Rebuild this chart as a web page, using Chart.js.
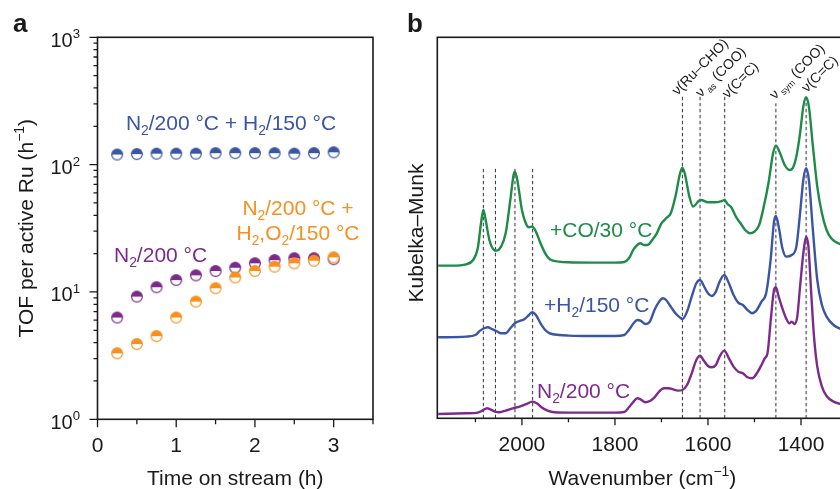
<!DOCTYPE html>
<html><head><meta charset="utf-8">
<script src="https://cdn.jsdelivr.net/npm/chart.js@4.4.1/dist/chart.umd.min.js"></script>
<style>
html,body{margin:0;padding:0;background:#fff;overflow:hidden;width:840px;height:489px}
#wrap{position:relative;width:840px;height:489px;overflow:hidden;background:#fff}
#ca{position:absolute;left:0;top:0;width:420px;height:489px}
#cb{position:absolute;left:400px;top:0;width:470px;height:489px}
</style></head><body>
<div id="wrap"><canvas id="ca" width="420" height="489"></canvas><canvas id="cb" width="470" height="489"></canvas></div>
<script>
// ---------- Panel a data ----------
const timeH = [0.25, 0.5, 0.75, 1.0, 1.25, 1.5, 1.75, 2.0, 2.25, 2.5, 2.75, 3.0];
const tofN2H2 = [120, 121, 122, 122, 122, 123, 123, 123, 123, 122, 123, 125];
const tofN2 = [6.3, 9.2, 10.9, 12.4, 13.5, 14.6, 15.5, 16.8, 17.8, 18.4, 18.4, 18.1];
const tofN2H2O2 = [3.3, 3.9, 4.5, 6.3, 8.4, 10.7, 13.0, 14.6, 15.8, 16.8, 17.6, 18.7];
const xTicksA = [0, 1, 2, 3];
const yTickExpA = [0, 1, 2, 3];

// ---------- Panel b data ----------
const coWave = [2180,2150,2120,2105,2095,2088,2083,2078,2070,2060,2055,2045,2035,2025,2018,2015,2010,2000,1990,1985,1978,1970,1960,1950,1940,1920,1900,1850,1800,1780,1770,1760,1750,1745,1738,1730,1720,1710,1700,1690,1680,1670,1660,1655,1650,1640,1632,1620,1615,1600,1585,1570,1564,1558,1550,1540,1530,1520,1510,1500,1490,1480,1470,1460,1454,1445,1435,1425,1418,1410,1402,1395,1389,1383,1375,1365,1355,1345,1335,1320,1300];
const coKM = [1.527,1.527,1.54,1.583,1.70,1.95,2.083,1.983,1.783,1.683,1.677,1.717,1.85,2.183,2.433,2.467,2.383,2.083,1.933,1.91,1.917,1.867,1.75,1.65,1.59,1.567,1.56,1.557,1.557,1.563,1.6,1.69,1.74,1.75,1.733,1.733,1.783,1.85,1.95,2.0,2.05,2.217,2.45,2.507,2.45,2.217,2.117,2.173,2.183,2.16,2.16,2.173,2.183,2.143,2.11,2.017,1.95,1.883,1.85,1.867,1.933,2.117,2.35,2.65,2.727,2.65,2.533,2.483,2.5,2.617,2.85,3.117,3.21,3.117,2.75,2.317,2.05,1.883,1.8,1.75,1.72];
const h2Wave = [2180,2120,2100,2090,2080,2073,2065,2055,2045,2035,2025,2015,2005,1995,1985,1978,1970,1960,1950,1940,1920,1900,1850,1800,1780,1770,1760,1752,1745,1735,1725,1715,1705,1697,1690,1680,1670,1660,1655,1645,1635,1625,1617,1610,1600,1592,1583,1575,1565,1555,1545,1535,1525,1515,1505,1495,1485,1475,1465,1458,1454,1448,1440,1432,1420,1410,1402,1395,1389,1383,1375,1365,1355,1345,1330,1310,1300];
const h2KM = [0.81,0.817,0.833,0.877,0.903,0.91,0.893,0.873,0.85,0.85,0.9,0.95,0.973,0.99,1.033,1.06,1.033,0.95,0.883,0.85,0.833,0.827,0.823,0.823,0.833,0.883,0.95,0.983,0.977,0.943,0.967,1.083,1.167,1.2,1.183,1.117,1.05,1.007,0.993,1.067,1.217,1.35,1.383,1.333,1.25,1.223,1.267,1.367,1.433,1.35,1.233,1.157,1.133,1.083,1.05,1.083,1.167,1.25,1.6,1.967,2.023,1.917,1.7,1.617,1.633,1.717,2.05,2.383,2.5,2.383,1.917,1.383,1.133,1.017,0.933,0.883,0.867];
const n2Wave = [2180,2120,2095,2085,2075,2068,2058,2048,2035,2020,2005,1990,1978,1968,1958,1945,1930,1900,1800,1780,1770,1760,1752,1745,1735,1725,1715,1705,1695,1685,1675,1665,1655,1645,1635,1625,1617,1610,1600,1592,1583,1575,1565,1555,1545,1535,1525,1515,1505,1495,1485,1478,1472,1465,1458,1454,1448,1440,1432,1425,1420,1414,1408,1402,1395,1389,1384,1378,1372,1365,1355,1345,1330,1315,1300];
const n2KM = [0.043,0.05,0.057,0.077,0.1,0.09,0.067,0.06,0.077,0.1,0.117,0.143,0.167,0.15,0.11,0.077,0.06,0.057,0.057,0.063,0.11,0.167,0.2,0.19,0.16,0.173,0.21,0.267,0.3,0.3,0.29,0.277,0.283,0.333,0.45,0.583,0.627,0.583,0.523,0.51,0.533,0.617,0.677,0.6,0.517,0.467,0.45,0.41,0.4,0.45,0.533,0.6,0.65,0.983,1.283,1.31,1.217,1.1,1.0,0.95,0.967,0.943,1.017,1.317,1.65,1.817,1.717,1.25,0.817,0.517,0.317,0.223,0.167,0.143,0.133];
const bandWave = [2083, 2057, 2015, 1977, 1655, 1617, 1564, 1454, 1389];
const bandTop = [2.517, 2.517, 2.517, 2.517, 3.23, 3.22, 3.23, 3.15, 3.22];
const bandNames = ['', '', '', '', 'ν(Ru–CHO)', 'ν_as (COO)', 'ν(C=C)', 'ν_sym (COO)', 'ν(C=C)'];

// ---------- style ----------
const FONT = "'Liberation Sans', Arial, Helvetica, sans-serif";
const BLUE = '#3a55a4', PURPLE = '#7c2b8b', ORANGE = '#f7901e', GREEN = '#1e8b48', INK = '#1a1a1a';
Chart.defaults.font.family = FONT;

function rich(ctx, parts, x, y, size, align, color, bold) {
  const specs = parts.map(p => {
    const mode = p[1] || '';
    const s = mode ? size * 0.66 : size;
    const off = mode === 'sub' ? size * 0.24 : (mode === 'sup' ? -size * 0.42 : 0);
    ctx.font = (bold ? 'bold ' : '') + s + 'px ' + FONT;
    return { t: p[0], s, off, w: ctx.measureText(p[0]).width };
  });
  const total = specs.reduce((a, b) => a + b.w, 0);
  let cx = align === 'center' ? x - total / 2 : (align === 'right' ? x - total : x);
  ctx.fillStyle = color; ctx.textAlign = 'left'; ctx.textBaseline = 'alphabetic';
  for (const sp of specs) {
    ctx.font = (bold ? 'bold ' : '') + sp.s + 'px ' + FONT;
    ctx.fillText(sp.t, cx, y + sp.off); cx += sp.w;
  }
}
function parseName(name) {
  const m = name.match(/^(ν)_(\w+)(.*)$/);
  if (m) return [[m[1]], [' ' + m[2], 'sub'], [m[3]]];
  return [[name]];
}

function marker(color) {
  const c = document.createElement('canvas'); c.width = 16; c.height = 16;
  const g = c.getContext('2d'); const r = 5.4;
  g.beginPath(); g.arc(8, 8, r, 0, Math.PI * 2); g.fillStyle = '#fff'; g.fill();
  g.beginPath(); g.arc(8, 8, r, Math.PI, Math.PI * 2); g.closePath(); g.fillStyle = color; g.fill();
  g.beginPath(); g.arc(8, 8, r, 0, Math.PI * 2); g.strokeStyle = color; g.lineWidth = 1.2; g.stroke();
  return c;
}

// ---------- Panel a ----------
const plugA = {
  id: 'plugA',
  afterDraw(chart) {
    const { ctx, chartArea: ca, scales: { x, y } } = chart;
    ctx.save();
    ctx.strokeStyle = INK; ctx.lineWidth = 1.6;
    ctx.strokeRect(ca.left, ca.top, ca.right - ca.left, ca.bottom - ca.top);
    ctx.lineWidth = 1.3; ctx.beginPath();
    for (let v = 0; v <= 3.5 + 1e-9; v += 0.5) {
      const px = x.getPixelForValue(v); const len = (Math.abs(v - Math.round(v)) < 1e-6) ? 8 : 5;
      ctx.moveTo(px, ca.bottom); ctx.lineTo(px, ca.bottom + len);
    }
    for (let e = 0; e <= 3; e++) {
      const py = y.getPixelForValue(Math.pow(10, e));
      ctx.moveTo(ca.left, py); ctx.lineTo(ca.left - 8, py);
      if (e < 3) for (let k = 2; k <= 9; k++) {
        const pm = y.getPixelForValue(k * Math.pow(10, e));
        ctx.moveTo(ca.left, pm); ctx.lineTo(ca.left - 4, pm);
      }
    }
    ctx.stroke();
    for (const e of yTickExpA) {
      const py = y.getPixelForValue(Math.pow(10, e));
      rich(ctx, [['10'], [String(e), 'sup']], 80, py + 9.5, 20, 'right', INK);
    }
    rich(ctx, [['a']], 13, 32, 26, 'left', INK, true);
    ctx.save(); ctx.translate(33, (ca.top + ca.bottom) / 2); ctx.rotate(-Math.PI / 2);
    rich(ctx, [['TOF per active Ru (h'], ['−1', 'sup'], [')']], 0, 0, 21, 'center', INK);
    ctx.restore();
    rich(ctx, [['Time on stream (h)']], (ca.left + ca.right) / 2, 485, 21, 'center', INK);
    rich(ctx, [['N'], ['2', 'sub'], ['/200 °C + H'], ['2', 'sub'], ['/150 °C']], 231, 130, 21, 'center', BLUE);
    rich(ctx, [['N'], ['2', 'sub'], ['/200 °C']], 114, 262, 21, 'left', PURPLE);
    rich(ctx, [['N'], ['2', 'sub'], ['/200 °C +']], 298, 215, 21, 'center', ORANGE);
    rich(ctx, [['H'], ['2', 'sub'], [',O'], ['2', 'sub'], ['/150 °C']], 298, 240, 21, 'center', ORANGE);
    ctx.restore();
  }
};
const ds = (label, vals, color) => ({
  label, data: timeH.map((t, i) => ({ x: t, y: vals[i] })),
  pointStyle: marker(color), pointRadius: 6, showLine: false, borderColor: color, backgroundColor: color
});
new Chart(document.getElementById('ca'), {
  type: 'scatter',
  data: { datasets: [
    ds('N2/200 °C + H2,O2/150 °C', tofN2H2O2, ORANGE),
    ds('N2/200 °C', tofN2, PURPLE),
    ds('N2/200 °C + H2/150 °C', tofN2H2, BLUE)
  ] },
  options: {
    responsive: false, animation: false, devicePixelRatio: 1,
    layout: { padding: { left: 0, top: 37.3, right: 47, bottom: 0 } },
    plugins: { legend: { display: false }, tooltip: { enabled: false } },
    scales: {
      x: { type: 'linear', min: 0, max: 3.5,
        ticks: { stepSize: 1, includeBounds: false, padding: 14, color: INK, font: { size: 21 }, maxRotation: 0,
          callback: v => xTicksA.includes(v) ? String(v) : '' },
        grid: { display: false, drawTicks: false }, border: { display: false },
        afterFit(s) { s.height = 69.7; } },
      y: { type: 'logarithmic', min: 1, max: 1000,
        ticks: { display: false }, grid: { display: false, drawTicks: false }, border: { display: false },
        afterFit(s) { s.width = 97.5; } }
    }
  },
  plugins: [plugA]
});

// ---------- Panel b ----------
const OFF = 400;
const bandLabelPos = [null, null, null, null, [-5, 91], [1, 93], [3, 94], [-1, 95], [1, 88]];
const plugB = {
  id: 'plugB',
  afterDraw(chart) {
    const { ctx, chartArea: ca, scales: { x } } = chart;
    ctx.save();
    ctx.strokeStyle = INK; ctx.lineWidth = 1.6;
    ctx.strokeRect(ca.left, ca.top, ca.right - ca.left, ca.bottom - ca.top);
    ctx.lineWidth = 1.3; ctx.beginPath();
    for (let v = 1300; v <= 2100; v += 100) {
      const px = x.getPixelForValue(v); const len = (v % 200 === 0) ? 7 : 4;
      ctx.moveTo(px, ca.bottom); ctx.lineTo(px, ca.bottom + len);
    }
    ctx.stroke();
    bandNames.forEach((nm, i) => {
      if (!nm) return;
      const p = bandLabelPos[i];
      const sx = x.getPixelForValue(bandWave[i]) + p[0];
      const sy = p[1] + 5;
      ctx.save(); ctx.translate(sx, sy); ctx.rotate(-Math.PI / 4);
      rich(ctx, parseName(nm), 0, 0, 14, 'left', INK);
      ctx.restore();
    });
    rich(ctx, [['b']], 407 - OFF, 32, 26, 'left', INK, true);
    ctx.save(); ctx.translate(423 - OFF, 233); ctx.rotate(-Math.PI / 2);
    rich(ctx, [['Kubelka–Munk']], 0, 0, 21, 'center', INK);
    ctx.restore();
    rich(ctx, [['Wavenumber (cm'], ['−1', 'sup'], [')']], (ca.left + ca.right) / 2, 485, 21, 'center', INK);
    rich(ctx, [['+CO/30 °C']], 550 - OFF, 237, 21, 'left', GREEN);
    rich(ctx, [['+H'], ['2', 'sub'], ['/150 °C']], 544 - OFF, 312, 21, 'left', BLUE);
    rich(ctx, [['N'], ['2', 'sub'], ['/200 °C']], 537 - OFF, 398, 21, 'left', PURPLE);
    ctx.restore();
  }
};
const spec = (label, wv, km, color) => ({
  label, data: wv.map((w, i) => ({ x: w, y: km[i] })), borderColor: color, borderWidth: 2.4,
  pointRadius: 0, cubicInterpolationMode: 'monotone', fill: false
});
const bandSets = bandWave.map((w, i) => ({
  label: 'band' + i, data: [{ x: w, y: 0 }, { x: w, y: bandTop[i] }],
  borderColor: '#333', borderWidth: 1, borderDash: [3.5, 2.5], pointRadius: 0, fill: false
}));
new Chart(document.getElementById('cb'), {
  type: 'line',
  data: { datasets: [
    spec('+CO/30 °C', coWave, coKM, GREEN),
    spec('+H2/150 °C', h2Wave, h2KM, BLUE),
    spec('N2/200 °C', n2Wave, n2KM, PURPLE),
    ...bandSets
  ] },
  options: {
    responsive: false, animation: false, devicePixelRatio: 1,
    layout: { padding: { left: 0, top: 37.3, right: 22.5, bottom: 0 } },
    plugins: { legend: { display: false }, tooltip: { enabled: false } },
    scales: {
      x: { type: 'linear', min: 1300, max: 2182, reverse: true,
        ticks: { stepSize: 200, includeBounds: false, padding: 14, color: INK, font: { size: 21 }, maxRotation: 0,
          callback: v => String(v) },
        grid: { display: false, drawTicks: false }, border: { display: false },
        afterFit(s) { s.height = 70.7; } },
      y: { type: 'linear', min: 0, max: 3.81,
        ticks: { display: false }, grid: { display: false, drawTicks: false }, border: { display: false },
        afterFit(s) { s.width = 37.3; } }
    }
  },
  plugins: [plugB]
});
</script>
</body></html>
